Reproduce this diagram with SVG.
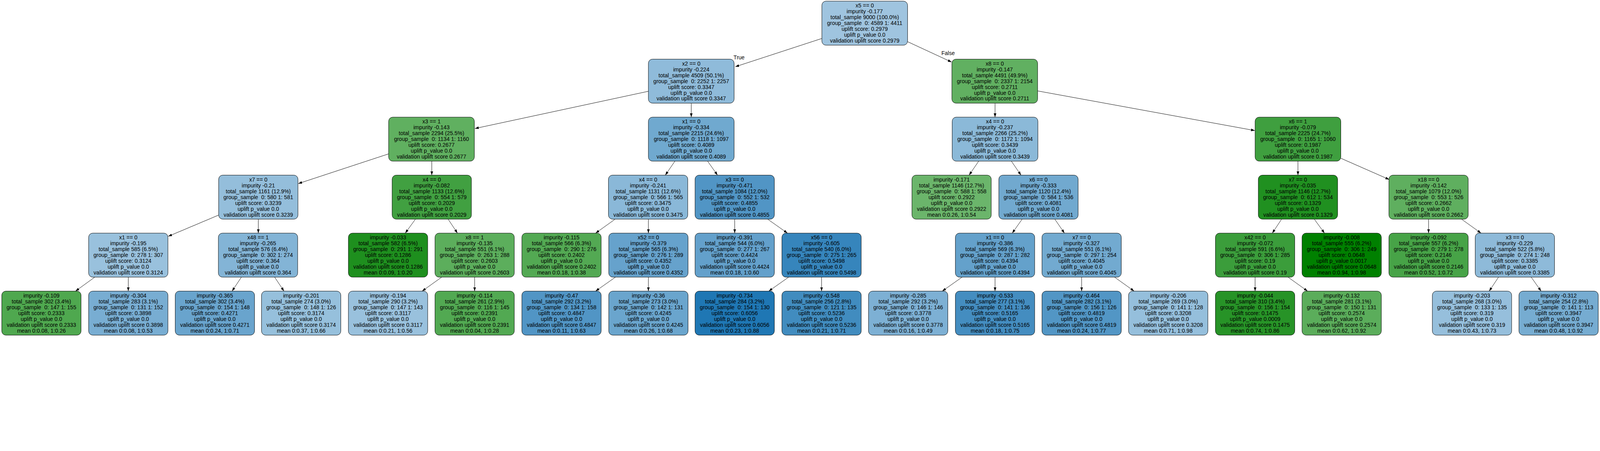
<svg xmlns="http://www.w3.org/2000/svg" width="5488" height="1155" viewBox="0 0 5488 1155" style="max-width:100%;height:auto">
<style>
rect.b{stroke:#000;stroke-width:1.3}
text{font-family:"Liberation Sans",Arial,sans-serif;font-size:18.8px;fill:#000;text-anchor:middle}
.e line{stroke:#000;stroke-width:1.3;marker-end:url(#ah)}
</style>
<defs><marker id="ah" markerUnits="userSpaceOnUse" markerWidth="14" markerHeight="10" refX="13" refY="5" orient="auto"><path d="M0,0.5 L13,5 L0,9.5 z" fill="#000"/></marker></defs>
<rect width="5488" height="1155" fill="#fff"/>
<g id="edges" class="e">
<line x1="2819" y1="132" x2="2522" y2="229"/>
<line x1="3113" y1="143" x2="3264" y2="213"/>
<line x1="2225" y1="313" x2="1629" y2="441"/>
<line x1="2371" y1="355" x2="2371" y2="402"/>
<line x1="3413" y1="355" x2="3413" y2="402"/>
<line x1="3559" y1="312" x2="4304" y2="448"/>
<line x1="1333" y1="528" x2="1023" y2="630"/>
<line x1="1481" y1="553" x2="1481" y2="601"/>
<line x1="2315" y1="553" x2="2282" y2="601"/>
<line x1="2427" y1="553" x2="2461" y2="601"/>
<line x1="3357" y1="553" x2="3324" y2="601"/>
<line x1="3469" y1="553" x2="3502" y2="601"/>
<line x1="4452" y1="553" x2="4452" y2="601"/>
<line x1="4599" y1="543" x2="4765" y2="616"/>
<line x1="750" y1="738" x2="577" y2="811"/>
<line x1="886" y1="752" x2="886" y2="800"/>
<line x1="1425" y1="752" x2="1390" y2="800"/>
<line x1="1537" y1="752" x2="1569" y2="800"/>
<line x1="2110" y1="752" x2="2043" y2="800"/>
<line x1="2224" y1="752" x2="2224" y2="800"/>
<line x1="2520" y1="752" x2="2520" y2="800"/>
<line x1="2633" y1="752" x2="2701" y2="800"/>
<line x1="3506" y1="752" x2="3472" y2="800"/>
<line x1="3618" y1="752" x2="3651" y2="800"/>
<line x1="4396" y1="752" x2="4364" y2="800"/>
<line x1="4508" y1="752" x2="4543" y2="800"/>
<line x1="4900" y1="752" x2="4900" y2="800"/>
<line x1="5013" y1="752" x2="5080" y2="800"/>
<line x1="325" y1="951" x2="259" y2="999"/>
<line x1="440" y1="951" x2="440" y2="999"/>
<line x1="828" y1="951" x2="796" y2="999"/>
<line x1="942" y1="951" x2="974" y2="999"/>
<line x1="1515" y1="951" x2="1448" y2="999"/>
<line x1="1628" y1="951" x2="1628" y2="999"/>
<line x1="2111" y1="951" x2="2043" y2="999"/>
<line x1="2224" y1="951" x2="2224" y2="999"/>
<line x1="2705" y1="951" x2="2637" y2="999"/>
<line x1="2818" y1="951" x2="2818" y2="999"/>
<line x1="3300" y1="951" x2="3232" y2="999"/>
<line x1="3413" y1="951" x2="3413" y2="999"/>
<line x1="3710" y1="951" x2="3710" y2="999"/>
<line x1="3823" y1="951" x2="3890" y2="999"/>
<line x1="4305" y1="951" x2="4305" y2="999"/>
<line x1="4418" y1="951" x2="4485" y2="999"/>
<line x1="5140" y1="951" x2="5108" y2="999"/>
<line x1="5252" y1="951" x2="5286" y2="999"/>
<text x="2535" y="204">True</text>
<text x="3252" y="189">False</text>
</g>
<g id="n0"><rect class="b" x="2819" y="4" width="294" height="151" rx="14" fill="#9fc4df"/><text xml:space="preserve" x="2966" y="26"><tspan x="2966">x5 == 0</tspan><tspan x="2966" dy="20">impurity -0.177</tspan><tspan x="2966" dy="20">total_sample 9000 (100.0%)</tspan><tspan x="2966" dy="20">group_sample  0: 4589 1: 4411</tspan><tspan x="2966" dy="20">uplift score: 0.2979</tspan><tspan x="2966" dy="20">uplift p_value 0.0</tspan><tspan x="2966" dy="20">validation uplift score 0.2979</tspan></text></g>
<g id="n1"><rect class="b" x="2224" y="203" width="294" height="151" rx="14" fill="#8fbbda"/><text xml:space="preserve" x="2371" y="225"><tspan x="2371">x2 == 0</tspan><tspan x="2371" dy="20">impurity -0.224</tspan><tspan x="2371" dy="20">total_sample 4509 (50.1%)</tspan><tspan x="2371" dy="20">group_sample  0: 2252 1: 2257</tspan><tspan x="2371" dy="20">uplift score: 0.3347</tspan><tspan x="2371" dy="20">uplift p_value 0.0</tspan><tspan x="2371" dy="20">validation uplift score 0.3347</tspan></text></g>
<g id="n2"><rect class="b" x="3265" y="203" width="294" height="151" rx="14" fill="#61b061"/><text xml:space="preserve" x="3412" y="225"><tspan x="3412">x8 == 0</tspan><tspan x="3412" dy="20">impurity -0.147</tspan><tspan x="3412" dy="20">total_sample 4491 (49.9%)</tspan><tspan x="3412" dy="20">group_sample  0: 2337 1: 2154</tspan><tspan x="3412" dy="20">uplift score: 0.2711</tspan><tspan x="3412" dy="20">uplift p_value 0.0</tspan><tspan x="3412" dy="20">validation uplift score 0.2711</tspan></text></g>
<g id="n3"><rect class="b" x="1333" y="402" width="294" height="151" rx="14" fill="#60b060"/><text xml:space="preserve" x="1480" y="424"><tspan x="1480">x3 == 1</tspan><tspan x="1480" dy="20">impurity -0.143</tspan><tspan x="1480" dy="20">total_sample 2294 (25.5%)</tspan><tspan x="1480" dy="20">group_sample  0: 1134 1: 1160</tspan><tspan x="1480" dy="20">uplift score: 0.2677</tspan><tspan x="1480" dy="20">uplift p_value 0.0</tspan><tspan x="1480" dy="20">validation uplift score 0.2677</tspan></text></g>
<g id="n4"><rect class="b" x="2224" y="402" width="294" height="151" rx="14" fill="#70a9cf"/><text xml:space="preserve" x="2371" y="424"><tspan x="2371">x1 == 0</tspan><tspan x="2371" dy="20">impurity -0.334</tspan><tspan x="2371" dy="20">total_sample 2215 (24.6%)</tspan><tspan x="2371" dy="20">group_sample  0: 1118 1: 1097</tspan><tspan x="2371" dy="20">uplift score: 0.4089</tspan><tspan x="2371" dy="20">uplift p_value 0.0</tspan><tspan x="2371" dy="20">validation uplift score 0.4089</tspan></text></g>
<g id="n5"><rect class="b" x="3266" y="402" width="294" height="151" rx="14" fill="#8bb9d8"/><text xml:space="preserve" x="3413" y="424"><tspan x="3413">x4 == 0</tspan><tspan x="3413" dy="20">impurity -0.237</tspan><tspan x="3413" dy="20">total_sample 2266 (25.2%)</tspan><tspan x="3413" dy="20">group_sample  0: 1172 1: 1094</tspan><tspan x="3413" dy="20">uplift score: 0.3439</tspan><tspan x="3413" dy="20">uplift p_value 0.0</tspan><tspan x="3413" dy="20">validation uplift score 0.3439</tspan></text></g>
<g id="n6"><rect class="b" x="4305" y="402" width="294" height="151" rx="14" fill="#3f9f3f"/><text xml:space="preserve" x="4452" y="424"><tspan x="4452">x6 == 1</tspan><tspan x="4452" dy="20">impurity -0.079</tspan><tspan x="4452" dy="20">total_sample 2225 (24.7%)</tspan><tspan x="4452" dy="20">group_sample  0: 1165 1: 1060</tspan><tspan x="4452" dy="20">uplift score: 0.1987</tspan><tspan x="4452" dy="20">uplift p_value 0.0</tspan><tspan x="4452" dy="20">validation uplift score 0.1987</tspan></text></g>
<g id="n7"><rect class="b" x="750" y="601" width="272" height="151" rx="14" fill="#94bedb"/><text xml:space="preserve" x="886" y="623"><tspan x="886">x7 == 0</tspan><tspan x="886" dy="20">impurity -0.21</tspan><tspan x="886" dy="20">total_sample 1161 (12.9%)</tspan><tspan x="886" dy="20">group_sample  0: 580 1: 581</tspan><tspan x="886" dy="20">uplift score: 0.3239</tspan><tspan x="886" dy="20">uplift p_value 0.0</tspan><tspan x="886" dy="20">validation uplift score 0.3239</tspan></text></g>
<g id="n8"><rect class="b" x="1345" y="601" width="272" height="151" rx="14" fill="#41a041"/><text xml:space="preserve" x="1481" y="623"><tspan x="1481">x4 == 0</tspan><tspan x="1481" dy="20">impurity -0.082</tspan><tspan x="1481" dy="20">total_sample 1133 (12.6%)</tspan><tspan x="1481" dy="20">group_sample  0: 554 1: 579</tspan><tspan x="1481" dy="20">uplift score: 0.2029</tspan><tspan x="1481" dy="20">uplift p_value 0.0</tspan><tspan x="1481" dy="20">validation uplift score 0.2029</tspan></text></g>
<g id="n9"><rect class="b" x="2087" y="601" width="272" height="151" rx="14" fill="#8ab8d8"/><text xml:space="preserve" x="2223" y="623"><tspan x="2223">x4 == 0</tspan><tspan x="2223" dy="20">impurity -0.241</tspan><tspan x="2223" dy="20">total_sample 1131 (12.6%)</tspan><tspan x="2223" dy="20">group_sample  0: 566 1: 565</tspan><tspan x="2223" dy="20">uplift score: 0.3475</tspan><tspan x="2223" dy="20">uplift p_value 0.0</tspan><tspan x="2223" dy="20">validation uplift score 0.3475</tspan></text></g>
<g id="n10"><rect class="b" x="2384" y="601" width="272" height="151" rx="14" fill="#5195c5"/><text xml:space="preserve" x="2520" y="623"><tspan x="2520">x3 == 0</tspan><tspan x="2520" dy="20">impurity -0.471</tspan><tspan x="2520" dy="20">total_sample 1084 (12.0%)</tspan><tspan x="2520" dy="20">group_sample  0: 552 1: 532</tspan><tspan x="2520" dy="20">uplift score: 0.4855</tspan><tspan x="2520" dy="20">uplift p_value 0.0</tspan><tspan x="2520" dy="20">validation uplift score 0.4855</tspan></text></g>
<g id="n11"><rect class="b" x="3128" y="601" width="272" height="151" rx="14" fill="#6bb56b"/><text xml:space="preserve" x="3264" y="623"><tspan x="3264">impurity -0.171</tspan><tspan x="3264" dy="20">total_sample 1146 (12.7%)</tspan><tspan x="3264" dy="20">group_sample  0: 588 1: 558</tspan><tspan x="3264" dy="20">uplift score: 0.2922</tspan><tspan x="3264" dy="20">uplift p_value 0.0</tspan><tspan x="3264" dy="20">validation uplift score 0.2922</tspan><tspan x="3264" dy="20">mean 0:0.26, 1:0.54</tspan></text></g>
<g id="n12"><rect class="b" x="3426" y="601" width="272" height="151" rx="14" fill="#71a9cf"/><text xml:space="preserve" x="3562" y="623"><tspan x="3562">x6 == 0</tspan><tspan x="3562" dy="20">impurity -0.333</tspan><tspan x="3562" dy="20">total_sample 1120 (12.4%)</tspan><tspan x="3562" dy="20">group_sample  0: 584 1: 536</tspan><tspan x="3562" dy="20">uplift score: 0.4081</tspan><tspan x="3562" dy="20">uplift p_value 0.0</tspan><tspan x="3562" dy="20">validation uplift score 0.4081</tspan></text></g>
<g id="n13"><rect class="b" x="4316" y="601" width="272" height="151" rx="14" fill="#209020"/><text xml:space="preserve" x="4452" y="623"><tspan x="4452">x7 == 0</tspan><tspan x="4452" dy="20">impurity -0.035</tspan><tspan x="4452" dy="20">total_sample 1146 (12.7%)</tspan><tspan x="4452" dy="20">group_sample  0: 612 1: 534</tspan><tspan x="4452" dy="20">uplift score: 0.1329</tspan><tspan x="4452" dy="20">uplift p_value 0.0</tspan><tspan x="4452" dy="20">validation uplift score 0.1329</tspan></text></g>
<g id="n14"><rect class="b" x="4764" y="601" width="272" height="151" rx="14" fill="#5faf5f"/><text xml:space="preserve" x="4900" y="623"><tspan x="4900">x18 == 0</tspan><tspan x="4900" dy="20">impurity -0.142</tspan><tspan x="4900" dy="20">total_sample 1079 (12.0%)</tspan><tspan x="4900" dy="20">group_sample  0: 553 1: 526</tspan><tspan x="4900" dy="20">uplift score: 0.2662</tspan><tspan x="4900" dy="20">uplift p_value 0.0</tspan><tspan x="4900" dy="20">validation uplift score 0.2662</tspan></text></g>
<g id="n15"><rect class="b" x="304" y="800" width="272" height="151" rx="14" fill="#99c1dd"/><text xml:space="preserve" x="440" y="822"><tspan x="440">x1 == 0</tspan><tspan x="440" dy="20">impurity -0.195</tspan><tspan x="440" dy="20">total_sample 585 (6.5%)</tspan><tspan x="440" dy="20">group_sample  0: 278 1: 307</tspan><tspan x="440" dy="20">uplift score: 0.3124</tspan><tspan x="440" dy="20">uplift p_value 0.0</tspan><tspan x="440" dy="20">validation uplift score 0.3124</tspan></text></g>
<g id="n16"><rect class="b" x="749" y="800" width="272" height="151" rx="14" fill="#83b4d6"/><text xml:space="preserve" x="885" y="822"><tspan x="885">x48 == 1</tspan><tspan x="885" dy="20">impurity -0.265</tspan><tspan x="885" dy="20">total_sample 576 (6.4%)</tspan><tspan x="885" dy="20">group_sample  0: 302 1: 274</tspan><tspan x="885" dy="20">uplift score: 0.364</tspan><tspan x="885" dy="20">uplift p_value 0.0</tspan><tspan x="885" dy="20">validation uplift score 0.364</tspan></text></g>
<g id="n17"><rect class="b" x="1195" y="800" width="272" height="151" rx="14" fill="#1e8f1e"/><text xml:space="preserve" x="1331" y="822"><tspan x="1331">impurity -0.033</tspan><tspan x="1331" dy="20">total_sample 582 (6.5%)</tspan><tspan x="1331" dy="20">group_sample  0: 291 1: 291</tspan><tspan x="1331" dy="20">uplift score: 0.1286</tspan><tspan x="1331" dy="20">uplift p_value 0.0</tspan><tspan x="1331" dy="20">validation uplift score 0.1286</tspan><tspan x="1331" dy="20">mean 0:0.09, 1:0.20</tspan></text></g>
<g id="n18"><rect class="b" x="1492" y="800" width="272" height="151" rx="14" fill="#5cae5c"/><text xml:space="preserve" x="1628" y="822"><tspan x="1628">x8 == 1</tspan><tspan x="1628" dy="20">impurity -0.135</tspan><tspan x="1628" dy="20">total_sample 551 (6.1%)</tspan><tspan x="1628" dy="20">group_sample  0: 263 1: 288</tspan><tspan x="1628" dy="20">uplift score: 0.2603</tspan><tspan x="1628" dy="20">uplift p_value 0.0</tspan><tspan x="1628" dy="20">validation uplift score 0.2603</tspan></text></g>
<g id="n19"><rect class="b" x="1790" y="800" width="272" height="151" rx="14" fill="#53a953"/><text xml:space="preserve" x="1926" y="822"><tspan x="1926">impurity -0.115</tspan><tspan x="1926" dy="20">total_sample 566 (6.3%)</tspan><tspan x="1926" dy="20">group_sample  0: 290 1: 276</tspan><tspan x="1926" dy="20">uplift score: 0.2402</tspan><tspan x="1926" dy="20">uplift p_value 0.0</tspan><tspan x="1926" dy="20">validation uplift score 0.2402</tspan><tspan x="1926" dy="20">mean 0:0.18, 1:0.38</tspan></text></g>
<g id="n20"><rect class="b" x="2088" y="800" width="272" height="151" rx="14" fill="#66a2cc"/><text xml:space="preserve" x="2224" y="822"><tspan x="2224">x52 == 0</tspan><tspan x="2224" dy="20">impurity -0.379</tspan><tspan x="2224" dy="20">total_sample 565 (6.3%)</tspan><tspan x="2224" dy="20">group_sample  0: 276 1: 289</tspan><tspan x="2224" dy="20">uplift score: 0.4352</tspan><tspan x="2224" dy="20">uplift p_value 0.0</tspan><tspan x="2224" dy="20">validation uplift score 0.4352</tspan></text></g>
<g id="n21"><rect class="b" x="2384" y="800" width="272" height="151" rx="14" fill="#63a0cb"/><text xml:space="preserve" x="2520" y="822"><tspan x="2520">impurity -0.391</tspan><tspan x="2520" dy="20">total_sample 544 (6.0%)</tspan><tspan x="2520" dy="20">group_sample  0: 277 1: 267</tspan><tspan x="2520" dy="20">uplift score: 0.4424</tspan><tspan x="2520" dy="20">uplift p_value 0.0</tspan><tspan x="2520" dy="20">validation uplift score 0.4424</tspan><tspan x="2520" dy="20">mean 0:0.18, 1:0.60</tspan></text></g>
<g id="n22"><rect class="b" x="2682" y="800" width="272" height="151" rx="14" fill="#3685bc"/><text xml:space="preserve" x="2818" y="822"><tspan x="2818">x56 == 0</tspan><tspan x="2818" dy="20">impurity -0.605</tspan><tspan x="2818" dy="20">total_sample 540 (6.0%)</tspan><tspan x="2818" dy="20">group_sample  0: 275 1: 265</tspan><tspan x="2818" dy="20">uplift score: 0.5498</tspan><tspan x="2818" dy="20">uplift p_value 0.0</tspan><tspan x="2818" dy="20">validation uplift score 0.5498</tspan></text></g>
<g id="n23"><rect class="b" x="3277" y="800" width="272" height="151" rx="14" fill="#64a1cb"/><text xml:space="preserve" x="3413" y="822"><tspan x="3413">x1 == 0</tspan><tspan x="3413" dy="20">impurity -0.386</tspan><tspan x="3413" dy="20">total_sample 569 (6.3%)</tspan><tspan x="3413" dy="20">group_sample  0: 287 1: 282</tspan><tspan x="3413" dy="20">uplift score: 0.4394</tspan><tspan x="3413" dy="20">uplift p_value 0.0</tspan><tspan x="3413" dy="20">validation uplift score 0.4394</tspan></text></g>
<g id="n24"><rect class="b" x="3574" y="800" width="272" height="151" rx="14" fill="#72aad0"/><text xml:space="preserve" x="3710" y="822"><tspan x="3710">x7 == 0</tspan><tspan x="3710" dy="20">impurity -0.327</tspan><tspan x="3710" dy="20">total_sample 551 (6.1%)</tspan><tspan x="3710" dy="20">group_sample  0: 297 1: 254</tspan><tspan x="3710" dy="20">uplift score: 0.4045</tspan><tspan x="3710" dy="20">uplift p_value 0.0</tspan><tspan x="3710" dy="20">validation uplift score 0.4045</tspan></text></g>
<g id="n25"><rect class="b" x="4169" y="800" width="272" height="151" rx="14" fill="#3b9d3b"/><text xml:space="preserve" x="4305" y="822"><tspan x="4305">x42 == 0</tspan><tspan x="4305" dy="20">impurity -0.072</tspan><tspan x="4305" dy="20">total_sample 591 (6.6%)</tspan><tspan x="4305" dy="20">group_sample  0: 306 1: 285</tspan><tspan x="4305" dy="20">uplift score: 0.19</tspan><tspan x="4305" dy="20">uplift p_value 0.0</tspan><tspan x="4305" dy="20">validation uplift score 0.19</tspan></text></g>
<g id="n26"><rect class="b" x="4466" y="800" width="272" height="151" rx="14" fill="#008000"/><text xml:space="preserve" x="4602" y="822"><tspan x="4602">impurity -0.008</tspan><tspan x="4602" dy="20">total_sample 555 (6.2%)</tspan><tspan x="4602" dy="20">group_sample  0: 306 1: 249</tspan><tspan x="4602" dy="20">uplift score: 0.0648</tspan><tspan x="4602" dy="20">uplift p_value 0.0017</tspan><tspan x="4602" dy="20">validation uplift score 0.0648</tspan><tspan x="4602" dy="20">mean 0:0.94, 1:0.98</tspan></text></g>
<g id="n27"><rect class="b" x="4764" y="800" width="272" height="151" rx="14" fill="#47a347"/><text xml:space="preserve" x="4900" y="822"><tspan x="4900">impurity -0.092</tspan><tspan x="4900" dy="20">total_sample 557 (6.2%)</tspan><tspan x="4900" dy="20">group_sample  0: 279 1: 278</tspan><tspan x="4900" dy="20">uplift score: 0.2146</tspan><tspan x="4900" dy="20">uplift p_value 0.0</tspan><tspan x="4900" dy="20">validation uplift score 0.2146</tspan><tspan x="4900" dy="20">mean 0:0.52, 1:0.72</tspan></text></g>
<g id="n28"><rect class="b" x="5060" y="800" width="272" height="151" rx="14" fill="#8ebad9"/><text xml:space="preserve" x="5196" y="822"><tspan x="5196">x3 == 0</tspan><tspan x="5196" dy="20">impurity -0.229</tspan><tspan x="5196" dy="20">total_sample 522 (5.8%)</tspan><tspan x="5196" dy="20">group_sample  0: 274 1: 248</tspan><tspan x="5196" dy="20">uplift score: 0.3385</tspan><tspan x="5196" dy="20">uplift p_value 0.0</tspan><tspan x="5196" dy="20">validation uplift score 0.3385</tspan></text></g>
<g id="n29"><rect class="b" x="6" y="999" width="272" height="151" rx="14" fill="#4fa84f"/><text xml:space="preserve" x="142" y="1021"><tspan x="142">impurity -0.109</tspan><tspan x="142" dy="20">total_sample 302 (3.4%)</tspan><tspan x="142" dy="20">group_sample  0: 147 1: 155</tspan><tspan x="142" dy="20">uplift score: 0.2333</tspan><tspan x="142" dy="20">uplift p_value 0.0</tspan><tspan x="142" dy="20">validation uplift score 0.2333</tspan><tspan x="142" dy="20">mean 0:0.08, 1:0.26</tspan></text></g>
<g id="n30"><rect class="b" x="304" y="999" width="272" height="151" rx="14" fill="#78add2"/><text xml:space="preserve" x="440" y="1021"><tspan x="440">impurity -0.304</tspan><tspan x="440" dy="20">total_sample 283 (3.1%)</tspan><tspan x="440" dy="20">group_sample  0: 131 1: 152</tspan><tspan x="440" dy="20">uplift score: 0.3898</tspan><tspan x="440" dy="20">uplift p_value 0.0</tspan><tspan x="440" dy="20">validation uplift score 0.3898</tspan><tspan x="440" dy="20">mean 0:0.08, 1:0.53</tspan></text></g>
<g id="n31"><rect class="b" x="601" y="999" width="272" height="151" rx="14" fill="#69a4cd"/><text xml:space="preserve" x="737" y="1021"><tspan x="737">impurity -0.365</tspan><tspan x="737" dy="20">total_sample 302 (3.4%)</tspan><tspan x="737" dy="20">group_sample  0: 154 1: 148</tspan><tspan x="737" dy="20">uplift score: 0.4271</tspan><tspan x="737" dy="20">uplift p_value 0.0</tspan><tspan x="737" dy="20">validation uplift score 0.4271</tspan><tspan x="737" dy="20">mean 0:0.24, 1:0.71</tspan></text></g>
<g id="n32"><rect class="b" x="897" y="999" width="272" height="151" rx="14" fill="#96c0dc"/><text xml:space="preserve" x="1033" y="1021"><tspan x="1033">impurity -0.201</tspan><tspan x="1033" dy="20">total_sample 274 (3.0%)</tspan><tspan x="1033" dy="20">group_sample  0: 148 1: 126</tspan><tspan x="1033" dy="20">uplift score: 0.3174</tspan><tspan x="1033" dy="20">uplift p_value 0.0</tspan><tspan x="1033" dy="20">validation uplift score 0.3174</tspan><tspan x="1033" dy="20">mean 0:0.37, 1:0.66</tspan></text></g>
<g id="n33"><rect class="b" x="1195" y="999" width="272" height="151" rx="14" fill="#99c1dd"/><text xml:space="preserve" x="1331" y="1021"><tspan x="1331">impurity -0.194</tspan><tspan x="1331" dy="20">total_sample 290 (3.2%)</tspan><tspan x="1331" dy="20">group_sample  0: 147 1: 143</tspan><tspan x="1331" dy="20">uplift score: 0.3117</tspan><tspan x="1331" dy="20">uplift p_value 0.0</tspan><tspan x="1331" dy="20">validation uplift score 0.3117</tspan><tspan x="1331" dy="20">mean 0:0.21, 1:0.56</tspan></text></g>
<g id="n34"><rect class="b" x="1492" y="999" width="272" height="151" rx="14" fill="#52a952"/><text xml:space="preserve" x="1628" y="1021"><tspan x="1628">impurity -0.114</tspan><tspan x="1628" dy="20">total_sample 261 (2.9%)</tspan><tspan x="1628" dy="20">group_sample  0: 116 1: 145</tspan><tspan x="1628" dy="20">uplift score: 0.2391</tspan><tspan x="1628" dy="20">uplift p_value 0.0</tspan><tspan x="1628" dy="20">validation uplift score 0.2391</tspan><tspan x="1628" dy="20">mean 0:0.04, 1:0.28</tspan></text></g>
<g id="n35"><rect class="b" x="1790" y="999" width="272" height="151" rx="14" fill="#5195c5"/><text xml:space="preserve" x="1926" y="1021"><tspan x="1926">impurity -0.47</tspan><tspan x="1926" dy="20">total_sample 292 (3.2%)</tspan><tspan x="1926" dy="20">group_sample  0: 134 1: 158</tspan><tspan x="1926" dy="20">uplift score: 0.4847</tspan><tspan x="1926" dy="20">uplift p_value 0.0</tspan><tspan x="1926" dy="20">validation uplift score 0.4847</tspan><tspan x="1926" dy="20">mean 0:0.11, 1:0.63</tspan></text></g>
<g id="n36"><rect class="b" x="2088" y="999" width="272" height="151" rx="14" fill="#6aa5cd"/><text xml:space="preserve" x="2224" y="1021"><tspan x="2224">impurity -0.36</tspan><tspan x="2224" dy="20">total_sample 273 (3.0%)</tspan><tspan x="2224" dy="20">group_sample  0: 142 1: 131</tspan><tspan x="2224" dy="20">uplift score: 0.4245</tspan><tspan x="2224" dy="20">uplift p_value 0.0</tspan><tspan x="2224" dy="20">validation uplift score 0.4245</tspan><tspan x="2224" dy="20">mean 0:0.26, 1:0.68</tspan></text></g>
<g id="n37"><rect class="b" x="2384" y="999" width="272" height="151" rx="14" fill="#1f77b4"/><text xml:space="preserve" x="2520" y="1021"><tspan x="2520">impurity -0.734</tspan><tspan x="2520" dy="20">total_sample 284 (3.2%)</tspan><tspan x="2520" dy="20">group_sample  0: 154 1: 130</tspan><tspan x="2520" dy="20">uplift score: 0.6056</tspan><tspan x="2520" dy="20">uplift p_value 0.0</tspan><tspan x="2520" dy="20">validation uplift score 0.6056</tspan><tspan x="2520" dy="20">mean 0:0.23, 1:0.88</tspan></text></g>
<g id="n38"><rect class="b" x="2682" y="999" width="272" height="151" rx="14" fill="#418cbf"/><text xml:space="preserve" x="2818" y="1021"><tspan x="2818">impurity -0.548</tspan><tspan x="2818" dy="20">total_sample 256 (2.8%)</tspan><tspan x="2818" dy="20">group_sample  0: 121 1: 135</tspan><tspan x="2818" dy="20">uplift score: 0.5236</tspan><tspan x="2818" dy="20">uplift p_value 0.0</tspan><tspan x="2818" dy="20">validation uplift score 0.5236</tspan><tspan x="2818" dy="20">mean 0:0.21, 1:0.71</tspan></text></g>
<g id="n39"><rect class="b" x="2979" y="999" width="272" height="151" rx="14" fill="#7db0d4"/><text xml:space="preserve" x="3115" y="1021"><tspan x="3115">impurity -0.285</tspan><tspan x="3115" dy="20">total_sample 292 (3.2%)</tspan><tspan x="3115" dy="20">group_sample  0: 146 1: 146</tspan><tspan x="3115" dy="20">uplift score: 0.3778</tspan><tspan x="3115" dy="20">uplift p_value 0.0</tspan><tspan x="3115" dy="20">validation uplift score 0.3778</tspan><tspan x="3115" dy="20">mean 0:0.16, 1:0.49</tspan></text></g>
<g id="n40"><rect class="b" x="3277" y="999" width="272" height="151" rx="14" fill="#448dc0"/><text xml:space="preserve" x="3413" y="1021"><tspan x="3413">impurity -0.533</tspan><tspan x="3413" dy="20">total_sample 277 (3.1%)</tspan><tspan x="3413" dy="20">group_sample  0: 141 1: 136</tspan><tspan x="3413" dy="20">uplift score: 0.5165</tspan><tspan x="3413" dy="20">uplift p_value 0.0</tspan><tspan x="3413" dy="20">validation uplift score 0.5165</tspan><tspan x="3413" dy="20">mean 0:0.18, 1:0.75</tspan></text></g>
<g id="n41"><rect class="b" x="3574" y="999" width="272" height="151" rx="14" fill="#5296c5"/><text xml:space="preserve" x="3710" y="1021"><tspan x="3710">impurity -0.464</tspan><tspan x="3710" dy="20">total_sample 282 (3.1%)</tspan><tspan x="3710" dy="20">group_sample  0: 156 1: 126</tspan><tspan x="3710" dy="20">uplift score: 0.4819</tspan><tspan x="3710" dy="20">uplift p_value 0.0</tspan><tspan x="3710" dy="20">validation uplift score 0.4819</tspan><tspan x="3710" dy="20">mean 0:0.24, 1:0.77</tspan></text></g>
<g id="n42"><rect class="b" x="3871" y="999" width="272" height="151" rx="14" fill="#95bfdc"/><text xml:space="preserve" x="4007" y="1021"><tspan x="4007">impurity -0.206</tspan><tspan x="4007" dy="20">total_sample 269 (3.0%)</tspan><tspan x="4007" dy="20">group_sample  0: 141 1: 128</tspan><tspan x="4007" dy="20">uplift score: 0.3208</tspan><tspan x="4007" dy="20">uplift p_value 0.0</tspan><tspan x="4007" dy="20">validation uplift score 0.3208</tspan><tspan x="4007" dy="20">mean 0:0.71, 1:0.98</tspan></text></g>
<g id="n43"><rect class="b" x="4169" y="999" width="272" height="151" rx="14" fill="#279327"/><text xml:space="preserve" x="4305" y="1021"><tspan x="4305">impurity -0.044</tspan><tspan x="4305" dy="20">total_sample 310 (3.4%)</tspan><tspan x="4305" dy="20">group_sample  0: 156 1: 154</tspan><tspan x="4305" dy="20">uplift score: 0.1475</tspan><tspan x="4305" dy="20">uplift p_value 0.0009</tspan><tspan x="4305" dy="20">validation uplift score 0.1475</tspan><tspan x="4305" dy="20">mean 0:0.74, 1:0.86</tspan></text></g>
<g id="n44"><rect class="b" x="4466" y="999" width="272" height="151" rx="14" fill="#5bad5b"/><text xml:space="preserve" x="4602" y="1021"><tspan x="4602">impurity -0.132</tspan><tspan x="4602" dy="20">total_sample 281 (3.1%)</tspan><tspan x="4602" dy="20">group_sample  0: 150 1: 131</tspan><tspan x="4602" dy="20">uplift score: 0.2574</tspan><tspan x="4602" dy="20">uplift p_value 0.0</tspan><tspan x="4602" dy="20">validation uplift score 0.2574</tspan><tspan x="4602" dy="20">mean 0:0.62, 1:0.92</tspan></text></g>
<g id="n45"><rect class="b" x="4913" y="999" width="272" height="151" rx="14" fill="#96bfdc"/><text xml:space="preserve" x="5049" y="1021"><tspan x="5049">impurity -0.203</tspan><tspan x="5049" dy="20">total_sample 268 (3.0%)</tspan><tspan x="5049" dy="20">group_sample  0: 133 1: 135</tspan><tspan x="5049" dy="20">uplift score: 0.319</tspan><tspan x="5049" dy="20">uplift p_value 0.0</tspan><tspan x="5049" dy="20">validation uplift score 0.319</tspan><tspan x="5049" dy="20">mean 0:0.43, 1:0.73</tspan></text></g>
<g id="n46"><rect class="b" x="5210" y="999" width="272" height="151" rx="14" fill="#76acd1"/><text xml:space="preserve" x="5346" y="1021"><tspan x="5346">impurity -0.312</tspan><tspan x="5346" dy="20">total_sample 254 (2.8%)</tspan><tspan x="5346" dy="20">group_sample  0: 141 1: 113</tspan><tspan x="5346" dy="20">uplift score: 0.3947</tspan><tspan x="5346" dy="20">uplift p_value 0.0</tspan><tspan x="5346" dy="20">validation uplift score 0.3947</tspan><tspan x="5346" dy="20">mean 0:0.48, 1:0.92</tspan></text></g>
</svg>
